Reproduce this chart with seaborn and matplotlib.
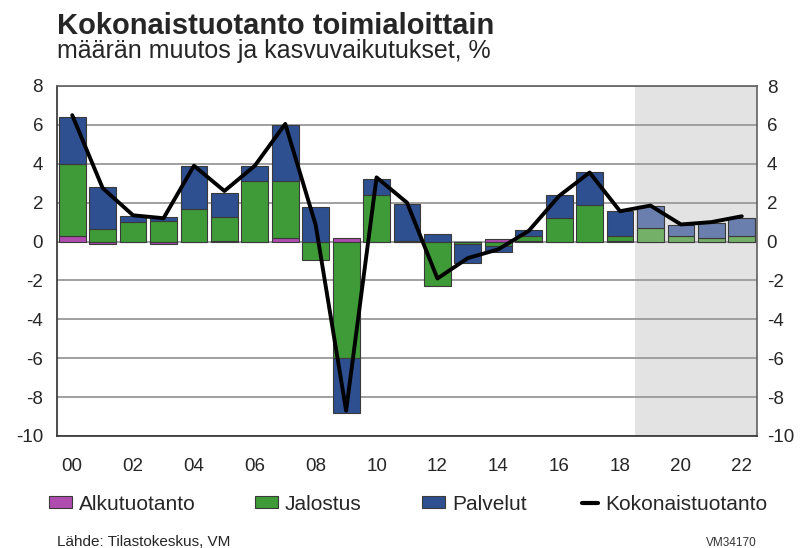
import numpy as np
import matplotlib
matplotlib.use("Agg")
import matplotlib.pyplot as plt
import seaborn as sns
from matplotlib.patches import Patch
from matplotlib.lines import Line2D

years = list(range(2000, 2023))
tick_labels = ["00", "02", "04", "06", "08", "10", "12", "14", "16", "18", "20", "22"]
alkutuotanto = [0.3, -0.1, 0.0, -0.1, 0.0, 0.05, 0.0, 0.2, 0.0, 0.2, 0.0, 0.0,
                0.0, 0.0, 0.15, 0.05, 0.0, 0.0, 0.05, 0.0, 0.0, 0.0, 0.0]
jalostus = [3.7, 0.65, 1.0, 1.05, 1.65, 1.22, 3.1, 2.9, -0.95, -6.0, 2.4, 0.05,
            -2.3, -0.15, -0.25, 0.25, 1.22, 1.86, 0.22, 0.7, 0.27, 0.19, 0.27]
palvelut = [2.4, 2.15, 0.3, 0.2, 2.25, 1.25, 0.8, 2.9, 1.8, -2.8, 0.8, 1.9,
            0.4, -0.95, -0.27, 0.27, 1.18, 1.7, 1.29, 1.12, 0.57, 0.77, 0.93]
kokonais = [6.5, 2.75, 1.35, 1.2, 3.9, 2.6, 3.9, 6.05, 0.85, -8.7, 3.3, 2.0,
            -1.9, -0.85, -0.4, 0.55, 2.35, 3.55, 1.56, 1.85, 0.88, 1.0, 1.3]
forecast_start = 2019

sns.set_theme(style="white")
plt.rcParams["font.family"] = ["Liberation Sans", "DejaVu Sans"]
plt.rcParams["axes.unicode_minus"] = False

fig = plt.figure(figsize=(8.05, 5.48), dpi=100)
ax = fig.add_axes([57/805, 1-436/548, 700/805, 350/548])

x = np.arange(len(years))
ax.axvspan(forecast_start - years[0] - 0.5, len(years) - 0.5, color="#e3e3e3", zorder=0, lw=0)
for v in range(-10, 9, 2):
    ax.axhline(v, color="#a0a0a0", lw=1.4, zorder=1)

colors = {"Alkutuotanto": ("#b04cb0", "#b07ab0"),
          "Jalostus": ("#3f9b38", "#74b068"),
          "Palvelut": ("#2e5090", "#6b7fae")}
series = [("Alkutuotanto", alkutuotanto), ("Jalostus", jalostus), ("Palvelut", palvelut)]
pos_bottom = np.zeros(len(years))
neg_bottom = np.zeros(len(years))
for name, vals in series:
    vals = np.array(vals)
    bottoms = np.where(vals >= 0, pos_bottom, neg_bottom)
    cols = [colors[name][1] if y >= forecast_start else colors[name][0] for y in years]
    ax.bar(x, vals, bottom=bottoms, width=0.88, color=cols, edgecolor="#3a3a3a",
           linewidth=0.8, zorder=2)
    pos_bottom += np.where(vals >= 0, vals, 0)
    neg_bottom += np.where(vals < 0, vals, 0)

sns.lineplot(x=x, y=kokonais, ax=ax, color="black", lw=2.8, zorder=3, estimator=None)

ax.set_xlim(-0.5, len(years) - 0.5)
ax.set_ylim(-10, 8)
ax.set_yticks(range(-10, 9, 2))
ax.set_xticks(x[::2])
ax.set_xticklabels(tick_labels)
ax.tick_params(axis="x", length=0, pad=16, labelsize=13.5)
ax.tick_params(axis="y", length=0, pad=10, labelsize=13.5)
for side, sp in ax.spines.items():
    sp.set_color("#606060")
    sp.set_linewidth(1.2)
ax.spines["left"].set_color("#303030")
ax.spines["bottom"].set_color("#303030")

ax2 = ax.twinx()
ax2.set_ylim(-10, 8)
ax2.set_yticks(range(-10, 9, 2))
ax2.tick_params(axis="y", length=0, pad=7, labelsize=13.5)
for sp in ax2.spines.values():
    sp.set_visible(False)
ax2.grid(False)

fig.text(57/805, 1-34/548, "Kokonaistuotanto toimialoittain", fontsize=21, fontweight="bold",
         ha="left", va="baseline")
fig.text(57/805, 1-58/548, "määrän muutos ja kasvuvaikutukset, %", fontsize=18,
         ha="left", va="baseline")
fig.text(57/805, 1-546/548, "Lähde: Tilastokeskus, VM", fontsize=11, ha="left", va="baseline")
fig.text(757/805, 1-546/548, "VM34170", fontsize=8.5, ha="right", va="baseline", color="#333333")

handles = [Patch(facecolor=colors["Alkutuotanto"][0], edgecolor="#3a3a3a", lw=0.8),
           Patch(facecolor=colors["Jalostus"][0], edgecolor="#3a3a3a", lw=0.8),
           Patch(facecolor=colors["Palvelut"][0], edgecolor="#3a3a3a", lw=0.8),
           Line2D([0], [0], color="black", lw=3)]
labels = ["Alkutuotanto", "Jalostus", "Palvelut", "Kokonaistuotanto"]
xpos = [52, 258, 425, 585]
for h, l, xp in zip(handles, labels, xpos):
    is_line = isinstance(h, Line2D)
    fig.legend([h], [l], loc="center left", bbox_to_anchor=(xp/805 - 0.012, 1-504/548),
               frameon=False, fontsize=15, handlelength=(0.8 if is_line else 1.1),
               handleheight=0.55, handletextpad=0.35, borderaxespad=0, borderpad=0.3)

fig.savefig("out.png", dpi=100)
